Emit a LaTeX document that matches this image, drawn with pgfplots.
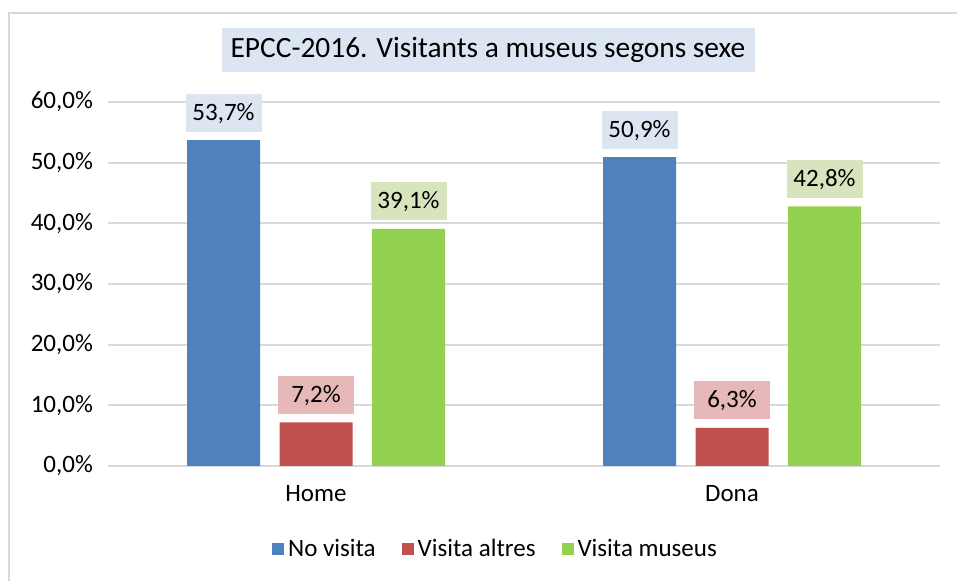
\documentclass[border=0pt]{standalone}
\usepackage{pgfplots}
\pgfplotsset{compat=1.18}
\usepackage{fontspec}
\setmainfont{Carlito}
\pgfkeys{/pgf/number format/assume math mode=true}
\definecolor{cblue}{HTML}{4F81BD}
\definecolor{cred}{HTML}{C0504D}
\definecolor{cgreen}{HTML}{92D050}
\definecolor{lblue}{HTML}{DCE6F2}
\definecolor{lred}{HTML}{E6B9B8}
\definecolor{lgreen}{HTML}{D7E4BD}
\definecolor{gridgray}{HTML}{D9D9D9}
\begin{document}
\begin{tikzpicture}
\useasboundingbox (0,0) rectangle (478.5pt,290.5pt);
\draw[gridgray, line width=1pt] (4.5pt,-2pt) -- (4.5pt,284pt) -- (480pt,284pt);
\node[fill=lblue, minimum width=266.5pt, minimum height=22pt, inner sep=0pt, font=\fontsize{14.7pt}{17pt}\selectfont] at (244pt,265.5pt) {EPCC-2016. Visitants a museus segons sexe};
\begin{axis}[
  at={(54pt,57.5pt)}, anchor=south west,
  scale only axis, width=416pt, height=182pt,
  xmin=-0.5, xmax=1.5, ymin=0, ymax=60,
  ybar=9.75pt, bar width=36.5pt,
  xtick={0,1}, xticklabels={Home,Dona},
  ytick={0,10,...,60},
  /pgf/number format/assume math mode=true,
  yticklabel={\pgfmathprintnumber[fixed,fixed zerofill,precision=1,use comma,assume math mode=true]{\tick}\%},
  ymajorgrids, grid style={draw=gridgray, line width=1pt},
  axis line style={draw=none},
  major tick length=0pt,
  tick label style={font=\fontsize{12.5pt}{14pt}\selectfont, text=black},
  yticklabel style={xshift=-4pt},
  xticklabel style={yshift=-6pt},
  nodes near coords={\pgfmathprintnumber[fixed,fixed zerofill,precision=1,use comma,assume math mode=true]{\pgfplotspointmeta}\%},
  nodes near coords style={font=\fontsize{12.5pt}{14pt}\selectfont, minimum width=38pt, minimum height=19pt, inner sep=0pt, text depth=1.5pt, text height=9pt, anchor=south, yshift=4pt},
  legend columns=3,
  legend style={at={(0.467,-0.228)}, anchor=center, draw=none, font=\fontsize{12.5pt}{14pt}\selectfont, /tikz/every even column/.append style={column sep=11pt}},
  legend image code/.code={\fill[#1] (0pt,-3pt) rectangle (6pt,3pt);},
]
\addplot[fill=cblue, draw=none, every node near coord/.append style={fill=lblue}] coordinates {(0,53.7) (1,50.9)};
\addplot[fill=cred, draw=none, every node near coord/.append style={fill=lred}] coordinates {(0,7.2) (1,6.3)};
\addplot[fill=cgreen, draw=none, every node near coord/.append style={fill=lgreen}] coordinates {(0,39.1) (1,42.8)};
\legend{No visita, Visita altres, Visita museus}
\end{axis}
\end{tikzpicture}
\end{document}
